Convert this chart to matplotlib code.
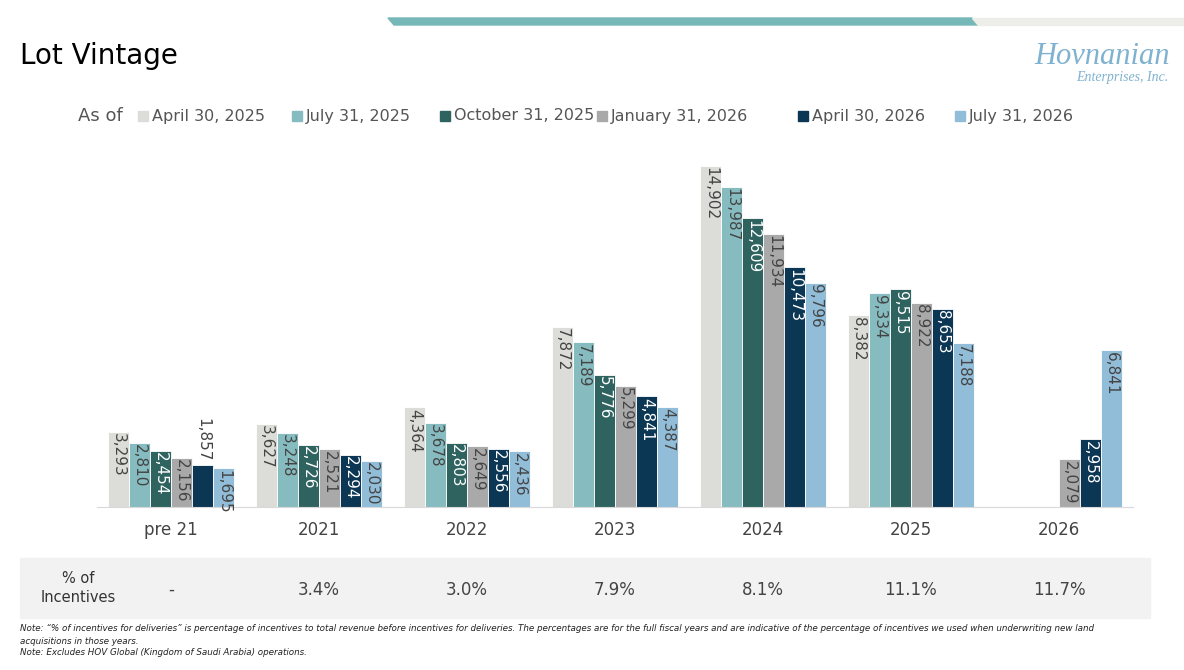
import matplotlib.pyplot as plt
import numpy as np
from matplotlib.patches import Polygon, Rectangle

# data
categories = ["pre 21", "2021", "2022", "2023", "2024", "2025", "2026"]
series_names = ["April 30, 2025", "July 31, 2025", "October 31, 2025",
                "January 31, 2026", "April 30, 2026", "July 31, 2026"]
apr_2025 = [3293, 3627, 4364, 7872, 14902, 8382, 0]
jul_2025 = [2810, 3248, 3678, 7189, 13987, 9334, 0]
oct_2025 = [2454, 2726, 2803, 5776, 12609, 9515, 0]
jan_2026 = [2156, 2521, 2649, 5299, 11934, 8922, 2079]
apr_2026 = [1857, 2294, 2556, 4841, 10473, 8653, 2958]
jul_2026 = [1695, 2030, 2436, 4387, 9796, 7188, 6841]
incentives = ["-", "3.4%", "3.0%", "7.9%", "8.1%", "11.1%", "11.7%"]

colors = ["#DCDCD8", "#86BCC0", "#2E6360", "#A9A9A9", "#0B3654", "#92BDD8"]
text_colors = ["#444444", "#444444", "white", "#444444", "white", "#444444"]
series = [apr_2025, jul_2025, oct_2025, jan_2026, apr_2026, jul_2026]

plt.rcParams['font.family'] = ['DejaVu Sans']
fig = plt.figure(figsize=(11.84, 6.7), dpi=100)

# top banner
fig.patches.append(Polygon([[388/1184, 1-18/670], [972/1184, 1-18/670], [978/1184, 1-25/670], [394/1184, 1-25/670]],
                           closed=True, transform=fig.transFigure, color="#76B7B8", zorder=0))
fig.patches.append(Polygon([[972/1184, 1-18/670], [1184/1184, 1-18/670], [1184/1184, 1-25/670], [978/1184, 1-25/670]],
                           closed=True, transform=fig.transFigure, color="#EDEDEA", zorder=0))

fig.text(20/1184, 1-56/670, "Lot Vintage", fontsize=20, va="center", ha="left", color="black")
fig.text(1170/1184, 1-56/670, "Hovnanian", fontsize=22, family="Liberation Serif", style="italic",
         color="#7FB2D0", ha="right", va="center")
fig.text(1168/1184, 1-78/670, "Enterprises, Inc.", fontsize=10, family="Liberation Serif", style="italic",
         color="#7FB2D0", ha="right", va="center")

# legend
fig.text(78/1184, 1-116/670, "As of", fontsize=13, color="#555555", va="center")
leg_x = [138, 292, 440, 597, 798, 955]
for x, name, c in zip(leg_x, series_names, colors):
    fig.patches.append(Rectangle((x/1184, 1-121/670), 10/1184, 10/670, transform=fig.transFigure, color=c))
    fig.text((x+14)/1184, 1-116/670, name, fontsize=11.5, color="#555555", va="center")

ax = fig.add_axes([97/1184, 1-507/670, 1036/1184, 357/670])
x = np.arange(len(categories))
w = 0.142
for i, (vals, c, tc) in enumerate(zip(series, colors, text_colors)):
    pos = x + (i - 2.5) * w
    ax.bar(pos, vals, width=w, color=c, edgecolor="white", linewidth=0.6)
    for p, v in zip(pos, vals):
        if v == 0:
            continue
        lab = f"{v:,}"
        if v < 1900 and i == 4:
            ax.text(p, v + 120, lab, rotation=-90, ha="center", va="bottom", fontsize=11, color="#444444")
        else:
            ax.text(p, v - 60, lab, rotation=-90, ha="center", va="top", fontsize=11, color=tc)

ax.set_xlim(-0.5, len(categories) - 0.5)
ax.set_ylim(0, 15600)
ax.set_yticks([])
ax.set_xticks(x)
ax.set_xticklabels(categories, fontsize=12, color="#444444")
ax.tick_params(axis="x", length=0, pad=10)
for s in ["top", "right", "left"]:
    ax.spines[s].set_visible(False)
ax.spines["bottom"].set_color("#D9D9D9")

# incentives row
fig.patches.append(Rectangle((20/1184, 1-618/670), 1130/1184, 60/670, transform=fig.transFigure,
                             color="#F2F2F2", zorder=0))
fig.text(78/1184, 1-588/670, "% of\nIncentives", fontsize=10.5, ha="center", va="center",
         color="#333333", linespacing=1.3)
for xi, t in zip(x, incentives):
    xf = ax.transData.transform((xi, 0))[0] / fig.bbox.width
    fig.text(xf, 1-590/670, t, fontsize=12, ha="center", va="center", color="#444444")

fig.text(20/1184, 1-624/670, "Note: \u201c% of incentives for deliveries\u201d is percentage of incentives to total revenue before incentives for deliveries. "
         "The percentages are for the full fiscal years and are indicative of the percentage of incentives we used when underwriting new land\n"
         "acquisitions in those years.", fontsize=6.3, style="italic", va="top", color="#222222", linespacing=1.5)
fig.text(20/1184, 1-648/670, "Note: Excludes HOV Global (Kingdom of Saudi Arabia) operations.",
         fontsize=6.3, style="italic", va="top", color="#222222")

fig.savefig("out.png", dpi=100)
